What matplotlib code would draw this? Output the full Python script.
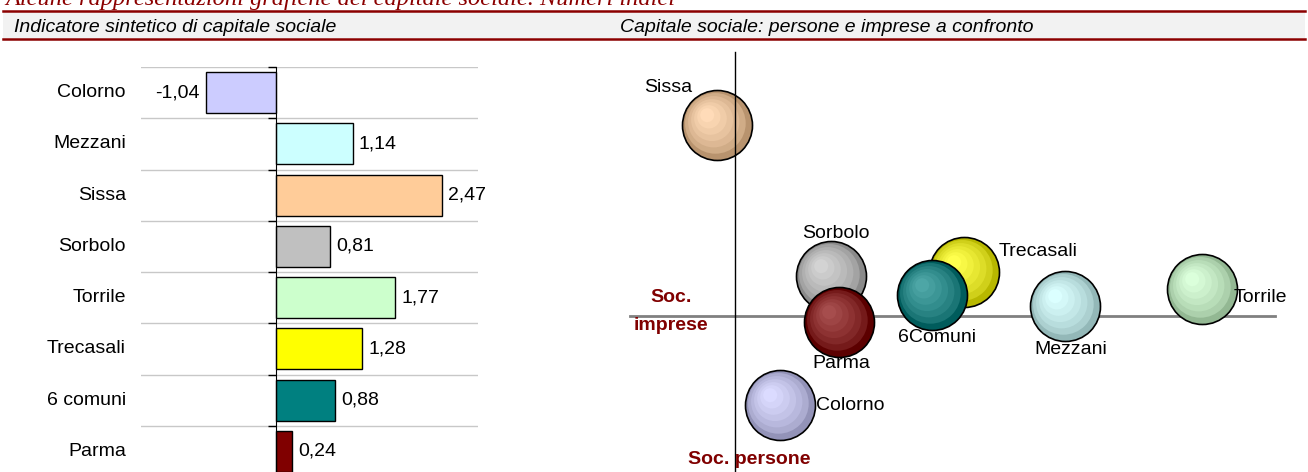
import numpy as np
import matplotlib.pyplot as plt
from matplotlib.colors import to_rgb
from matplotlib.transforms import ScaledTranslation, blended_transform_factory
from matplotlib.patches import Rectangle
from matplotlib.lines import Line2D

plt.rcParams['font.family'] = ['Liberation Sans', 'DejaVu Sans']

W, H = 1308, 472

# ---------------------------------------------------------------- data
comuni = ['Colorno', 'Mezzani', 'Sissa', 'Sorbolo', 'Torrile', 'Trecasali', '6 comuni', 'Parma']
indice = [-1.04, 1.14, 2.47, 0.81, 1.77, 1.28, 0.88, 0.24]
colori = ['#CCCCFF', '#CCFFFF', '#FFCC99', '#C0C0C0', '#CCFFCC', '#FFFF00', '#008080', '#800000']

# bolle: capitale sociale persone (x) vs imprese (y), in ordine di disegno
bolle = ['Sissa', 'Sorbolo', 'Trecasali', 'Mezzani', 'Torrile', 'Colorno', '6Comuni', 'Parma']
soc_persone = [-0.18, 0.96, 2.29, 3.30, 4.67, 0.45, 1.97, 1.04]
soc_imprese = [1.91, 0.40, 0.44, 0.10, 0.27, -0.89, 0.21, -0.06]
colori_bolle = ['#FFCC99', '#C0C0C0', '#FFFF00', '#CCFFFF', '#CCFFCC', '#CCCCFF', '#008080', '#800000']

# posizione etichette bolle (offset in pixel, allineamento)
etich = {'Sissa': (-49, 37, 'center'), 'Sorbolo': (5, 43, 'center'),
         'Trecasali': (35, 20, 'left'), 'Mezzani': (6, -43, 'center'),
         'Torrile': (32, -8, 'left'), 'Colorno': (36, 0, 'left'),
         '6Comuni': (-34, -42, 'left'), 'Parma': (2, -41, 'center')}


def fx(px):
    return px / W


def fy(py):
    return 1 - py / H


fig = plt.figure(figsize=(W / 100, H / 100), dpi=100)

# ---------------------------------------------------------------- intestazione
fig.text(fx(5), fy(5.5), 'Alcune rappresentazioni grafiche del capitale sociale. Numeri indici',
         family='Liberation Serif', style='italic', color='#8B0000', fontsize=17.6, va='baseline')
fig.add_artist(Rectangle((fx(3), fy(38)), fx(1305) - fx(3), fy(11) - fy(38),
                         transform=fig.transFigure, facecolor='#F2F2F2', edgecolor='none', zorder=0))
for yy in (10.5, 38.7):
    fig.add_artist(Line2D([fx(3), fx(1305)], [fy(yy), fy(yy)], color='#8B0000', lw=1.8,
                          transform=fig.transFigure))
fig.text(fx(14), fy(32.5), 'Indicatore sintetico di capitale sociale', style='italic',
         fontsize=14, va='baseline')
fig.text(fx(620), fy(32.5), 'Capitale sociale: persone e imprese a confronto', style='italic',
         fontsize=14, va='baseline')

# ---------------------------------------------------------------- barre
ax1 = fig.add_axes([fx(141), fy(477), (478 - 141) / W, 410 / H])
pos = np.arange(len(comuni))
ax1.barh(pos, indice, height=0.8, color=colori, edgecolor='black', lw=1, zorder=3)
ax1.set_xlim(-2, 3)
ax1.set_ylim(len(comuni) - 0.5, -0.5)
for s in ['top', 'right', 'bottom']:
    ax1.spines[s].set_visible(False)
ax1.spines['left'].set_position(('data', 0))
ax1.spines['left'].set_zorder(4)
ax1.set_xticks([])
ax1.set_yticks(np.arange(-0.5, len(comuni), 1))
ax1.set_yticklabels([])
ax1.tick_params(axis='y', direction='out', length=6, width=1)
ax1.yaxis.grid(True, color='#C8C8C8', lw=1)
ax1.set_axisbelow(True)

tr = blended_transform_factory(ax1.transAxes, ax1.transData)
for i, (nome, v) in enumerate(zip(comuni, indice)):
    ax1.text(-0.045, i, nome, ha='right', va='center', fontsize=14, transform=tr)
    ax1.annotate(f'{v:.2f}'.replace('.', ','), (v, i), xytext=(6 if v > 0 else -6, 0),
                 textcoords='offset pixels', ha='left' if v > 0 else 'right', va='center',
                 fontsize=14, zorder=5)

# ---------------------------------------------------------------- bolle
ax2 = fig.add_axes([fx(600), 0, 708 / W, 432 / H])
ax2.set_xlim(-1.35, 5.73)
ax2.set_ylim(-1.56, 2.76)
ax2.axis('off')
ax2.plot([-1.05, 5.40], [0, 0], color='#808080', lw=2, zorder=1)
ax2.plot([0, 0], [2.64, -1.56], color='black', lw=1, zorder=10)

D = 70 * 0.72  # diametro in punti
n = 7
for nome, x, y, c in zip(bolle, soc_persone, soc_imprese, colori_bolle):
    base = np.array(to_rgb(c))
    scuro = base * 0.72
    chiaro = base + (1 - base) * 0.3
    for k in range(n):
        f = k / (n - 1)
        d = D * (1 - 0.8 * f)
        sh = (D - d) / 2 * 0.35
        g = f ** 0.6
        col = scuro * (1 - g) + chiaro * g
        t = ax2.transData + ScaledTranslation(-sh / 72, sh / 72, fig.dpi_scale_trans)
        ax2.scatter([x], [y], s=d ** 2, color=col, edgecolors='black' if k == 0 else 'none',
                    linewidths=1.2 if k == 0 else 0, transform=t, zorder=2)
    dx, dy, ha = etich[nome]
    ax2.annotate(nome, (x, y), xytext=(dx, dy), textcoords='offset pixels', ha=ha,
                 va='center', fontsize=14, zorder=11)

ax2.text(0.1, 0.405, 'Soc.', transform=ax2.transAxes, ha='center', va='center',
         color='#800000', fontsize=14, fontweight='bold')
ax2.text(0.1, 0.340, 'imprese', transform=ax2.transAxes, ha='center', va='center',
         color='#800000', fontsize=14, fontweight='bold')
ax2.text(0.211, 0.028, 'Soc. persone', transform=ax2.transAxes, ha='center', va='center',
         color='#800000', fontsize=14, fontweight='bold', zorder=12)

fig.savefig('out.png', dpi=100)
